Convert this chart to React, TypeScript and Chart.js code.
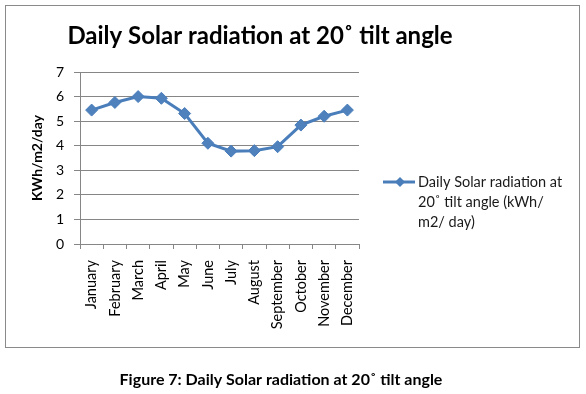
import React, { useEffect, useRef } from "react";
import { Chart, registerables } from "chart.js";

Chart.register(...registerables);

const months = [
  "January", "February", "March", "April", "May", "June",
  "July", "August", "September", "October", "November", "December",
];
const radiation = [5.45, 5.76, 6.0, 5.93, 5.31, 4.1, 3.78, 3.8, 3.96, 4.84, 5.2, 5.45];
const yMin = 0;
const yMax = 7;
const yStep = 1;
const titleText = "Daily Solar radiation at 20˚ tilt angle";
const yAxisTitle = "KWh/m2/day";
const seriesName = "Daily Solar radiation at 20˚ tilt angle (kWh/ m2/ day)";
const legendLines = ["Daily Solar radiation at", "20˚ tilt angle (kWh/", "m2/ day)"];
const captionText = "Figure 7: Daily Solar radiation at 20˚ tilt angle";

const FONT = "Lato, 'Open Sans', sans-serif";
const BLUE = "#4A7EBB";
const GRID = "#868686";

const decor = {
  id: "decor",
  beforeDraw(chart: any) {
    const ctx = chart.ctx;
    ctx.save();
    ctx.fillStyle = "#ffffff";
    ctx.fillRect(0, 0, chart.width, chart.height);
    ctx.strokeStyle = "#8a8a8a";
    ctx.lineWidth = 1;
    ctx.strokeRect(5.5, 5.5, 574, 342);
    ctx.restore();
  },
  afterDraw(chart: any) {
    const ctx = chart.ctx;
    ctx.save();
    // title
    ctx.fillStyle = "#000";
    ctx.textAlign = "center";
    ctx.textBaseline = "alphabetic";
    ctx.font = `bold 24px ${FONT}`;
    ctx.fillText(titleText, 260, 44);
    // legend
    const ly = 182;
    ctx.strokeStyle = BLUE;
    ctx.lineWidth = 3;
    ctx.beginPath();
    ctx.moveTo(383, ly);
    ctx.lineTo(415, ly);
    ctx.stroke();
    ctx.fillStyle = BLUE;
    ctx.beginPath();
    ctx.moveTo(400, ly - 5);
    ctx.lineTo(405, ly);
    ctx.lineTo(400, ly + 5);
    ctx.lineTo(395, ly);
    ctx.closePath();
    ctx.fill();
    ctx.fillStyle = "#1a1a1a";
    ctx.textAlign = "left";
    ctx.textBaseline = "middle";
    ctx.font = `14.5px ${FONT}`;
    legendLines.forEach((t, i) => ctx.fillText(t, 418, ly + i * 20));
    // caption
    ctx.fillStyle = "#000";
    ctx.textAlign = "center";
    ctx.textBaseline = "alphabetic";
    ctx.font = `bold 16px ${FONT}`;
    ctx.fillText(captionText, 281, 385);
    ctx.restore();
  },
};

export default function App() {
  const ref = useRef<HTMLCanvasElement | null>(null);

  useEffect(() => {
    document.body.style.margin = "0";
    if (!ref.current) return;
    const chart = new Chart(ref.current, {
      type: "line",
      data: {
        labels: months,
        datasets: [
          {
            label: seriesName,
            data: radiation,
            borderColor: BLUE,
            backgroundColor: BLUE,
            borderWidth: 3,
            pointStyle: "rectRot",
            pointRadius: 6,
            pointBorderWidth: 1,
            pointBackgroundColor: "#4F81BD",
            pointBorderColor: BLUE,
            tension: 0,
          },
        ],
      },
      options: {
        responsive: false,
        animation: false,
        devicePixelRatio: 1,
        layout: { padding: { top: 72, right: 227, bottom: 0, left: 0 } },
        plugins: {
          legend: { display: false },
          title: { display: false },
          tooltip: { enabled: false },
        },
        scales: {
          x: {
            type: "category",
            offset: true,
            grid: {
              offset: true,
              drawOnChartArea: false,
              drawTicks: true,
              tickLength: 5,
              color: GRID,
            },
            border: { color: GRID, width: 1 },
            ticks: {
              autoSkip: false,
              minRotation: 90,
              maxRotation: 90,
              padding: 11,
              color: "#000",
              font: { family: FONT, size: 14.5 },
            },
            afterFit: (s: any) => {
              s.height = 150;
            },
          },
          y: {
            min: yMin,
            max: yMax,
            ticks: {
              stepSize: yStep,
              padding: 10,
              color: "#000",
              font: { family: FONT, size: 14 },
            },
            grid: { color: GRID, tickLength: 6 },
            border: { color: GRID, width: 1 },
            title: {
              display: true,
              text: yAxisTitle,
              color: "#000",
              font: { family: FONT, size: 14, weight: "bold" },
              padding: { top: 29, bottom: 0 },
            },
            afterFit: (s: any) => {
              s.width = 80;
            },
          },
        },
      },
      plugins: [decor],
    });
    return () => chart.destroy();
  }, []);

  return <canvas ref={ref} width={586} height={394} style={{ display: "block" }} />;
}
